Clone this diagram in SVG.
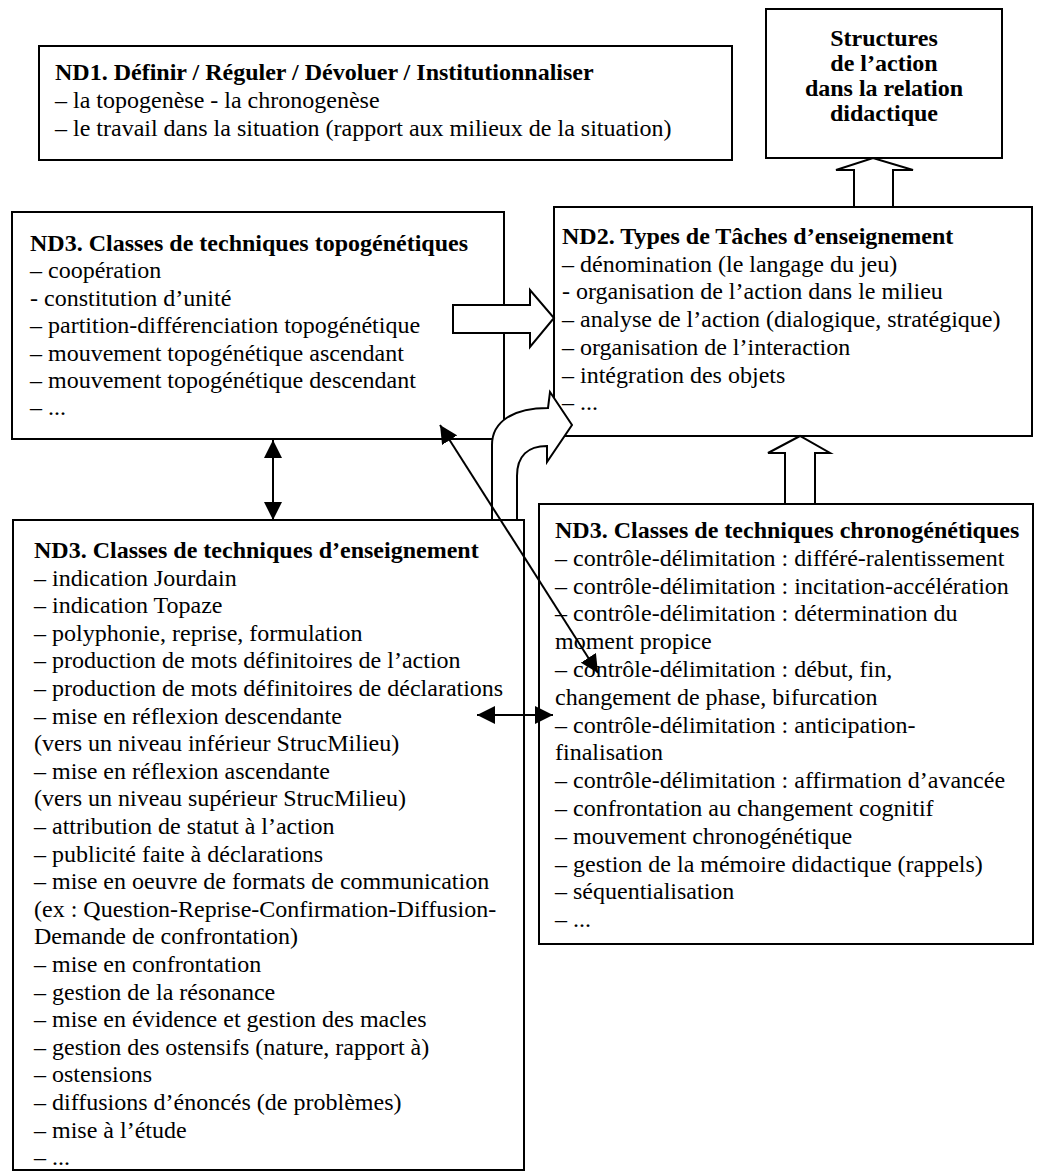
<svg xmlns="http://www.w3.org/2000/svg" width="1037" height="1173" viewBox="0 0 1037 1173">
<style>
.box{fill:#fff;stroke:#000;stroke-width:2}
.t{font-family:"Liberation Serif","Times New Roman",serif;font-size:24px;fill:#000}
.b{font-weight:bold}
.hollow{fill:#fff;stroke:#000;stroke-width:2;stroke-linejoin:miter}
.ln{fill:none;stroke:#000;stroke-width:2}
</style>
<defs>
<marker id="ah" viewBox="0 0 18 18" refX="18" refY="9" markerWidth="18" markerHeight="18" markerUnits="userSpaceOnUse" orient="auto-start-reverse">
<path d="M0,0 L18,9 L0,18 z" fill="#000"/>
</marker>
</defs>
<rect width="1037" height="1173" fill="#fff"/>

<g id="nd1">
<rect class="box" x="39" y="46" width="693" height="114"/>
<text class="t" x="55" y="80"><tspan class="b">ND1. Définir / Réguler / Dévoluer / Institutionnaliser</tspan><tspan x="55" dy="28">– la topogenèse - la chronogenèse</tspan><tspan x="55" dy="28">– le travail dans la situation (rapport aux milieux de la situation)</tspan></text>
</g>

<g id="structures">
<rect class="box" x="766" y="9" width="236" height="149"/>
<text class="t b" text-anchor="middle" x="884" y="46"><tspan x="884">Structures</tspan><tspan x="884" dy="24.5">de l’action</tspan><tspan x="884" dy="25.5">dans la relation</tspan><tspan x="884" dy="24.5">didactique</tspan></text>
</g>

<g id="nd3-topo">
<rect class="box" x="12" y="212" width="492" height="227"/>
<text class="t" x="30" y="251"><tspan class="b">ND3. Classes de techniques topogénétiques</tspan><tspan x="30" dy="27.4">– coopération</tspan><tspan x="30" dy="27.4">- constitution d’unité</tspan><tspan x="30" dy="27.4">– partition-différenciation topogénétique</tspan><tspan x="30" dy="27.4">– mouvement topogénétique ascendant</tspan><tspan x="30" dy="27.4">– mouvement topogénétique descendant</tspan><tspan x="30" dy="27.4">– ...</tspan></text>
</g>

<g id="nd2">
<rect class="box" x="554" y="207" width="478" height="229"/>
<text class="t" x="562" y="244"><tspan class="b">ND2. Types de Tâches d’enseignement</tspan><tspan x="562" dy="27.7">– dénomination (le langage du jeu)</tspan><tspan x="562" dy="27.7">- organisation de l’action dans le milieu</tspan><tspan x="562" dy="27.7">– analyse de l’action (dialogique, stratégique)</tspan><tspan x="562" dy="27.7">– organisation de l’interaction</tspan><tspan x="562" dy="27.7">– intégration des objets</tspan><tspan x="562" dy="27.7">– ...</tspan></text>
</g>

<g id="nd3-enseignement">
<rect class="box" x="13" y="520" width="511" height="650"/>
<text class="t" x="34" y="558"><tspan class="b">ND3. Classes de techniques d’enseignement</tspan><tspan x="34" dy="27.6">– indication Jourdain</tspan><tspan x="34" dy="27.6">– indication Topaze</tspan><tspan x="34" dy="27.6">– polyphonie, reprise, formulation</tspan><tspan x="34" dy="27.6">– production de mots définitoires de l’action</tspan><tspan x="34" dy="27.6">– production de mots définitoires de déclarations</tspan><tspan x="34" dy="27.6">– mise en réflexion descendante</tspan><tspan x="34" dy="27.6">(vers un niveau inférieur StrucMilieu)</tspan><tspan x="34" dy="27.6">– mise en réflexion ascendante</tspan><tspan x="34" dy="27.6">(vers un niveau supérieur StrucMilieu)</tspan><tspan x="34" dy="27.6">– attribution de statut à l’action</tspan><tspan x="34" dy="27.6">– publicité faite à déclarations</tspan><tspan x="34" dy="27.6">– mise en oeuvre de formats de communication</tspan><tspan x="34" dy="27.6">(ex : Question-Reprise-Confirmation-Diffusion-</tspan><tspan x="34" dy="27.6">Demande de confrontation)</tspan><tspan x="34" dy="27.6">– mise en confrontation</tspan><tspan x="34" dy="27.6">– gestion de la résonance</tspan><tspan x="34" dy="27.6">– mise en évidence et gestion des macles</tspan><tspan x="34" dy="27.6">– gestion des ostensifs (nature, rapport à)</tspan><tspan x="34" dy="27.6">– ostensions</tspan><tspan x="34" dy="27.6">– diffusions d’énoncés (de problèmes)</tspan><tspan x="34" dy="27.6">– mise à l’étude</tspan><tspan x="34" dy="27.6">– ...</tspan></text>
</g>

<g id="nd3-chrono">
<rect class="box" x="539" y="504" width="494" height="440"/>
<text class="t" x="555" y="538"><tspan class="b">ND3. Classes de techniques chronogénétiques</tspan><tspan x="555" dy="27.8">– contrôle-délimitation : différé-ralentissement</tspan><tspan x="555" dy="27.8">– contrôle-délimitation : incitation-accélération</tspan><tspan x="555" dy="27.8">– contrôle-délimitation : détermination du</tspan><tspan x="555" dy="27.8">moment propice</tspan><tspan x="555" dy="27.8">– contrôle-délimitation : début, fin,</tspan><tspan x="555" dy="27.8">changement de phase, bifurcation</tspan><tspan x="555" dy="27.8">– contrôle-délimitation : anticipation-</tspan><tspan x="555" dy="27.8">finalisation</tspan><tspan x="555" dy="27.8">– contrôle-délimitation : affirmation d’avancée</tspan><tspan x="555" dy="27.8">– confrontation au changement cognitif</tspan><tspan x="555" dy="27.8">– mouvement chronogénétique</tspan><tspan x="555" dy="27.8">– gestion de la mémoire didactique (rappels)</tspan><tspan x="555" dy="27.8">– séquentialisation</tspan><tspan x="555" dy="27.8">– ...</tspan></text>
</g>

<g id="connectors">
<path class="hollow" d="M854,207 L854,170 L836,170 L873,158 L913,170 L893,170 L893,207 Z"/>
<path class="hollow" d="M453,305 L530,305 L530,290 L554,318 L530,347 L530,333 L453,333 Z"/>
<path class="hollow" d="M785,504 L785,453 L768,453 L800,436 L830,453 L815,453 L815,504 Z"/>
<path class="hollow" d="M492,520 L492,445 C492,421 514,408 548,408 L550,392 L572,425 L547,462 L547,446 C528,446 517,456 517,476 L517,520 Z"/>
<line class="ln" x1="273" y1="440" x2="273" y2="520" marker-start="url(#ah)" marker-end="url(#ah)"/>
<line class="ln" x1="477" y1="715" x2="553" y2="715" marker-start="url(#ah)" marker-end="url(#ah)"/>
<line class="ln" x1="440" y1="425" x2="598" y2="673" marker-start="url(#ah)" marker-end="url(#ah)"/>
</g>
</svg>
